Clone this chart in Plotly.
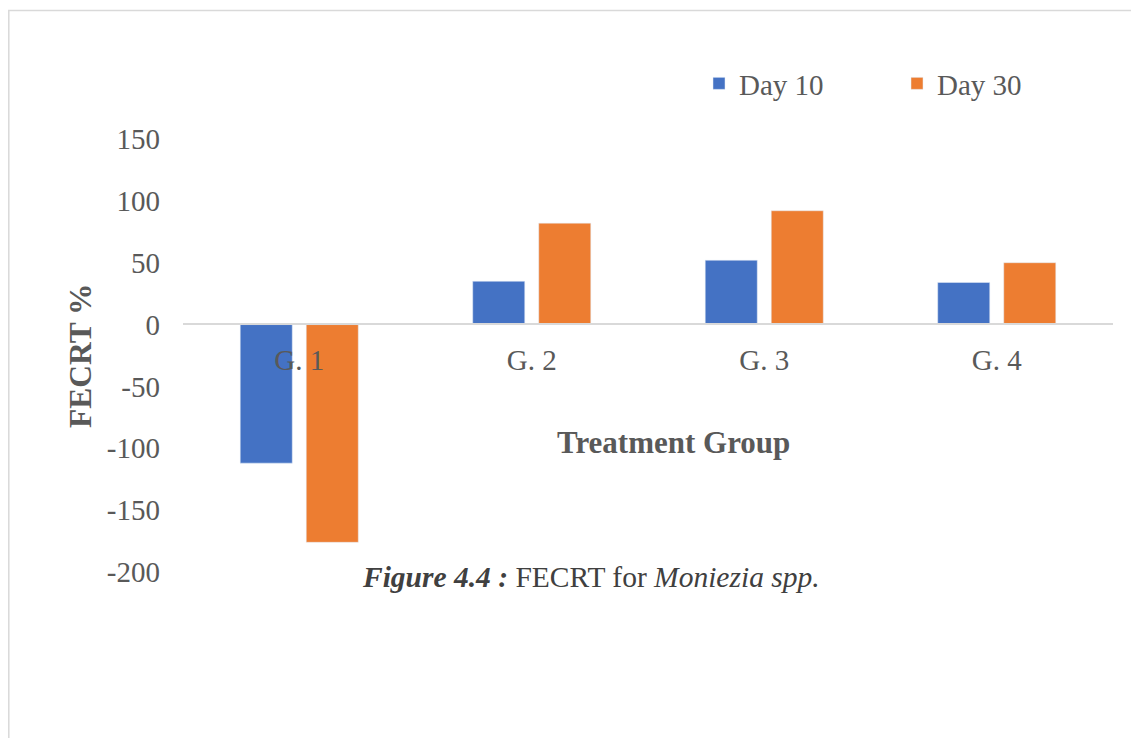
import plotly.graph_objects as go

categories = ["G. 1", "G. 2", "G. 3", "G. 4"]
day10 = [-112, 35, 52, 34]
day30 = [-176, 82, 92, 50]
series_names = ["Day 10", "Day 30"]
y_ticks = [150, 100, 50, 0, -50, -100, -150, -200]
y_tick_text = [str(v).replace("\u2212", "-") for v in y_ticks]

OFF = 8  # page body margin
W, H = 1131, 730
L, R, T, B = 175, 26, 131, 166
pw, ph = W - L - R, H - T - B


def px(x):
    return (x - OFF - L) / pw


def py(y):
    return (H - B - (y - OFF)) / ph


font_family = "Liberation Serif, Times New Roman, serif"
gray = "#595959"

fig = go.Figure()
fig.add_trace(go.Bar(x=categories, y=day10, name=series_names[0], marker_color="#4472C4"))
fig.add_trace(go.Bar(x=categories, y=day30, name=series_names[1], marker_color="#ED7D31"))

fig.update_layout(
    width=W, height=H,
    margin=dict(l=L, r=R, t=T, b=B, pad=0),
    paper_bgcolor="white", plot_bgcolor="white",
    barmode="group", bargap=0.432, bargroupgap=0.212,
    font=dict(family=font_family, size=29, color=gray),
    showlegend=True,
    legend=dict(orientation="h", x=px(699), y=py(83.5), xanchor="left", yanchor="middle",
                xref="paper", yref="paper",
                font=dict(family=font_family, size=29, color=gray),
                entrywidth=153, entrywidthmode="pixels",
                bgcolor="rgba(0,0,0,0)"),
    xaxis=dict(anchor="free", position=py(324), showline=True, linecolor="#d9d9d9", linewidth=2,
               showgrid=False, zeroline=False, ticks="", ticklabelstandoff=10,
               tickfont=dict(family=font_family, size=29, color=gray)),
    yaxis=dict(range=[-200, 150], tickvals=y_ticks, ticktext=y_tick_text,
               showgrid=False, zeroline=False, showline=False,
               ticks="", ticklabelstandoff=22,
               tickfont=dict(family=font_family, size=29, color=gray)),
)

fig.add_annotation(text="<b>Treatment Group</b>", xref="paper", yref="paper",
                   x=px(673), y=py(442), showarrow=False, xanchor="center", yanchor="middle",
                   font=dict(family=font_family, size=31, color=gray))
fig.add_annotation(text="<b>FECRT %</b>", xref="paper", yref="paper", textangle=-90,
                   x=px(80), y=py(356), showarrow=False, xanchor="center", yanchor="middle",
                   font=dict(family=font_family, size=31.5, color=gray))
fig.add_annotation(text="<b><i>Figure 4.4 :</i></b> FECRT for <i>Moniezia spp.</i>",
                   xref="paper", yref="paper", x=px(591), y=py(577), showarrow=False,
                   xanchor="center", yanchor="middle",
                   font=dict(family=font_family, size=29.5, color="#404040"))

fig.add_shape(type="rect", xref="paper", yref="paper",
              x0=px(8.8), x1=px(1160), y0=py(760), y1=py(10.5),
              line=dict(color="#d9d9d9", width=1.5), fillcolor="rgba(0,0,0,0)", layer="below")

fig.write_html("out.html")
